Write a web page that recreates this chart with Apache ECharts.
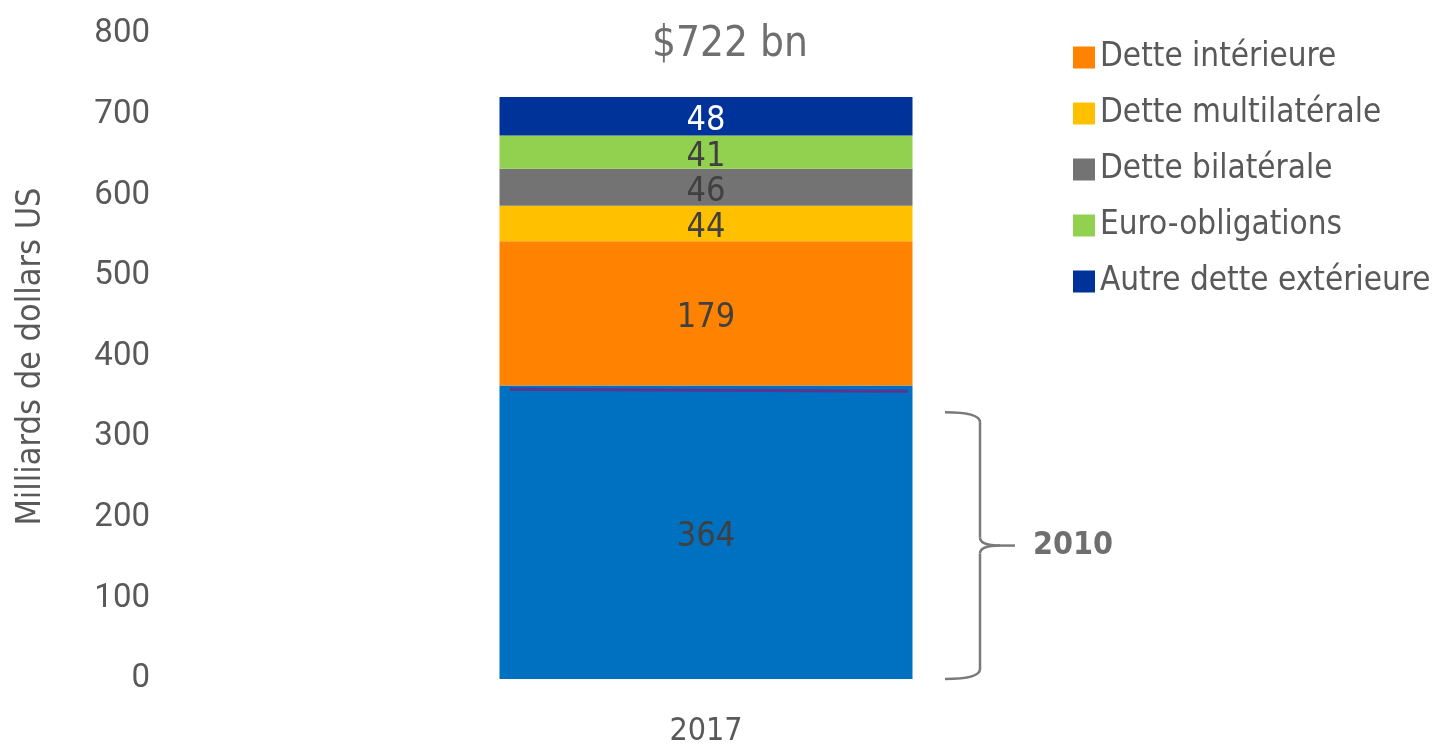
<!DOCTYPE html>
<html>
<head>
<meta charset="utf-8">
<script src="https://cdn.jsdelivr.net/npm/echarts@6/dist/echarts.min.js"></script>
<style>
  html, body { margin: 0; padding: 0; background: #fff; }
  #chart { width: 1445px; height: 745px; }
</style>
</head>
<body>
<div id="chart"></div>
<script>
// données
const categories = ["2017"];
const seriesNames = ["2010", "Dette intérieure", "Dette multilatérale", "Dette bilatérale", "Euro-obligations", "Autre dette extérieure"];
const seriesValues = [[364], [179], [44], [46], [41], [48]];
const seriesColors = ["#0070C0", "#FF8200", "#FFC000", "#737373", "#92D050", "#00339A"];
const labelColors = ["#404040", "#404040", "#404040", "#404040", "#404040", "#ffffff"];
const yTicks = [0, 800, 100]; // min, max, interval
const totalLabel = "$722 bn";
const bracketRange = [0, 331]; // accolade "2010"
const baseLineValue = 358;

const narrow = "'Liberation Sans Narrow', 'DejaVu Sans Condensed', sans-serif";
const textGray = "#595959";

let myChart = echarts.init(document.getElementById("chart"));

let series = seriesNames.map((name, i) => ({
  name: name,
  type: "bar",
  stack: "total",
  barWidth: 413,
  data: seriesValues[i],
  itemStyle: { color: seriesColors[i] },
  label: {
    show: true,
    position: "inside",
    offset: [0, 5],
    color: labelColors[i],
    fontFamily: narrow,
    fontSize: 34,
  },
}));

let options = {
  animation: false,
  title: {
    text: totalLabel,
    left: 725,
    top: 19,
    textAlign: "center",
    textStyle: { color: "#6f6f6f", fontFamily: narrow, fontSize: 42, fontWeight: "normal" },
  },
  legend: {
    data: seriesNames.slice(1),
    orient: "vertical",
    left: 1068,
    top: 36,
    itemWidth: 22,
    itemHeight: 22,
    itemGap: 23,
    icon: "rect",
    textStyle: { color: textGray, fontFamily: narrow, fontSize: 33 },
  },
  grid: { left: 160, right: 193, top: 34, bottom: 66, outerBoundsMode: "none" },
  xAxis: {
    type: "category",
    data: categories,
    axisLine: { show: false },
    axisTick: { show: false },
    axisLabel: { color: textGray, fontFamily: narrow, fontSize: 32, margin: 37 },
  },
  yAxis: {
    type: "value",
    min: yTicks[0],
    max: yTicks[1],
    interval: yTicks[2],
    name: "Milliards de dollars US",
    nameLocation: "middle",
    nameGap: 112,
    nameTextStyle: { color: textGray, fontFamily: narrow, fontSize: 34 },
    axisLine: { show: false },
    axisTick: { show: false },
    splitLine: { show: false },
    axisLabel: { color: textGray, fontFamily: "Roboto, sans-serif", fontSize: 33, margin: 10 },
  },
  series: series,
};
myChart.setOption(options);

// accolade et ligne de séparation
let yTop = myChart.convertToPixel({ yAxisIndex: 0 }, bracketRange[1]);
let yBot = myChart.convertToPixel({ yAxisIndex: 0 }, bracketRange[0]);
let yMid = (yTop + yBot) / 2;
let yLine = myChart.convertToPixel({ yAxisIndex: 0 }, baseLineValue);
let bx = 980;
let stroke = { fill: null, stroke: "#7a7a7a", lineWidth: 2.5 };

myChart.setOption({
  graphic: [
    { type: "bezierCurve", shape: { x1: 945, y1: yTop, cpx1: bx, cpy1: yTop, x2: bx, y2: yTop + 10 }, style: stroke },
    { type: "line", shape: { x1: bx, y1: yTop + 10, x2: bx, y2: yMid - 8 }, style: stroke },
    { type: "bezierCurve", shape: { x1: bx, y1: yMid - 8, cpx1: bx, cpy1: yMid, x2: 1000, y2: yMid }, style: stroke },
    { type: "bezierCurve", shape: { x1: bx, y1: yMid + 8, cpx1: bx, cpy1: yMid, x2: 1000, y2: yMid }, style: stroke },
    { type: "line", shape: { x1: 1000, y1: yMid, x2: 1015, y2: yMid }, style: stroke },
    { type: "line", shape: { x1: bx, y1: yMid + 8, x2: bx, y2: yBot - 10 }, style: stroke },
    { type: "bezierCurve", shape: { x1: bx, y1: yBot - 10, cpx1: bx, cpy1: yBot, x2: 945, y2: yBot }, style: stroke },
    {
      type: "text",
      left: 1033,
      top: yMid - 16,
      style: { text: "2010", fill: "#6f6f6f", font: "bold 32px " + narrow },
    },
    {
      type: "line",
      shape: { x1: 510, y1: yLine - 1, x2: 908, y2: yLine + 1 },
      style: { stroke: "#5b3391", lineWidth: 3 },
      z: 10,
    },
  ],
});
</script>
</body>
</html>
